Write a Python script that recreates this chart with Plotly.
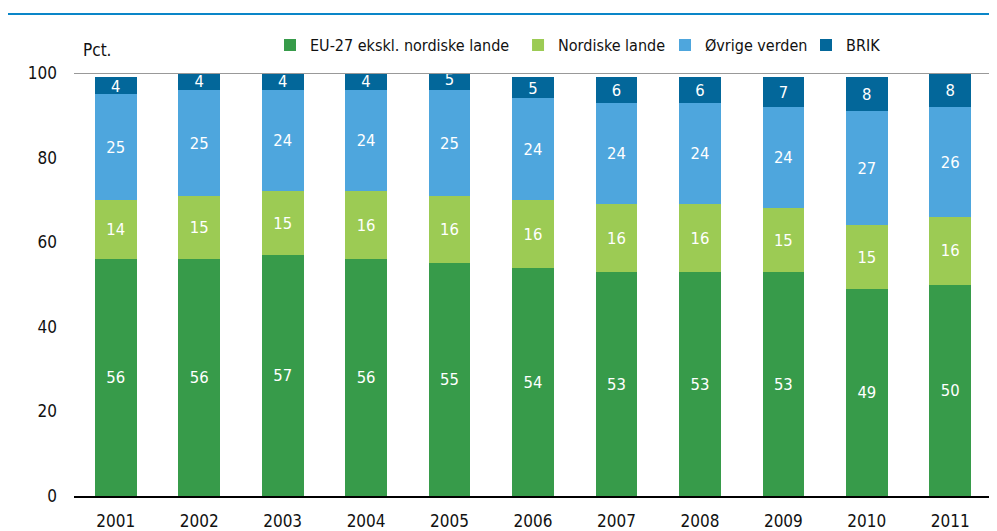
import plotly.graph_objects as go

years = ["2001", "2002", "2003", "2004", "2005", "2006", "2007", "2008", "2009", "2010", "2011"]
eu27 = [56, 56, 57, 56, 55, 54, 53, 53, 53, 49, 50]
nordic = [14, 15, 15, 16, 16, 16, 16, 16, 15, 15, 16]
rest = [25, 25, 24, 24, 25, 24, 24, 24, 24, 27, 26]
brik = [4, 4, 4, 4, 5, 5, 6, 6, 7, 8, 8]

series = [
    ("EU-27 ekskl. nordiske lande", eu27, "#379B4A", "legend", 0.2135),
    ("Nordiske lande", nordic, "#9CCB54", "legend2", 0.4837),
    ("Øvrige verden", rest, "#4EA6DD", "legend3", 0.6438),
    ("BRIK", brik, "#03679A", "legend4", 0.7974),
]

FONT = "DejaVu Sans Condensed, DejaVu Sans, sans-serif"

fig = go.Figure()
legends = {}
for name, vals, col, lg, lx in series:
    fig.add_trace(go.Bar(
        x=years, y=vals, name=name, marker_color=col,
        marker_line_width=0, legend=lg,
        text=[str(v) for v in vals], textposition="inside",
        insidetextanchor="middle", textangle=0,
        textfont=dict(color="white", size=17, family=FONT),
        width=0.5,
    ))
    legends[lg] = dict(orientation="h", x=lx, xanchor="left", y=1.066, yanchor="middle",
                       font=dict(size=16, family=FONT, color="#111"), itemsizing="constant",
                       bgcolor="rgba(0,0,0,0)")

fig.update_layout(
    barmode="stack",
    width=997, height=531,
    margin=dict(l=66, r=13, t=65, b=43, autoexpand=False),
    plot_bgcolor="white", paper_bgcolor="white",
    font=dict(family=FONT, size=17, color="#111"),
    uniformtext=dict(minsize=16, mode="show"),
    showlegend=True,
    xaxis=dict(showgrid=False, showline=True, linecolor="black", linewidth=2,
               ticks="", tickfont=dict(size=17), range=[-0.5, 10.5], ticklabelstandoff=9),
    yaxis=dict(range=[0, 100], tickvals=[0, 20, 40, 60, 80, 100], showgrid=False,
               zeroline=False, showline=False, ticks="", tickfont=dict(size=17),
               ticklabelstandoff=16),
    shapes=[
        dict(type="line", xref="paper", yref="y", x0=0, x1=1, y0=100, y1=100,
             line=dict(color="#999999", width=2), layer="above"),
        dict(type="line", xref="paper", yref="paper", x0=-0.08, x1=1.02, y0=1.1395, y1=1.1395,
             line=dict(color="#0A86C8", width=2)),
    ],
    annotations=[
        dict(text="Pct.", xref="paper", yref="paper", x=0.008, y=1.054, xanchor="left",
             yanchor="middle", showarrow=False, font=dict(size=17, family=FONT)),
    ],
    **legends,
)

fig.write_html("out.html")
